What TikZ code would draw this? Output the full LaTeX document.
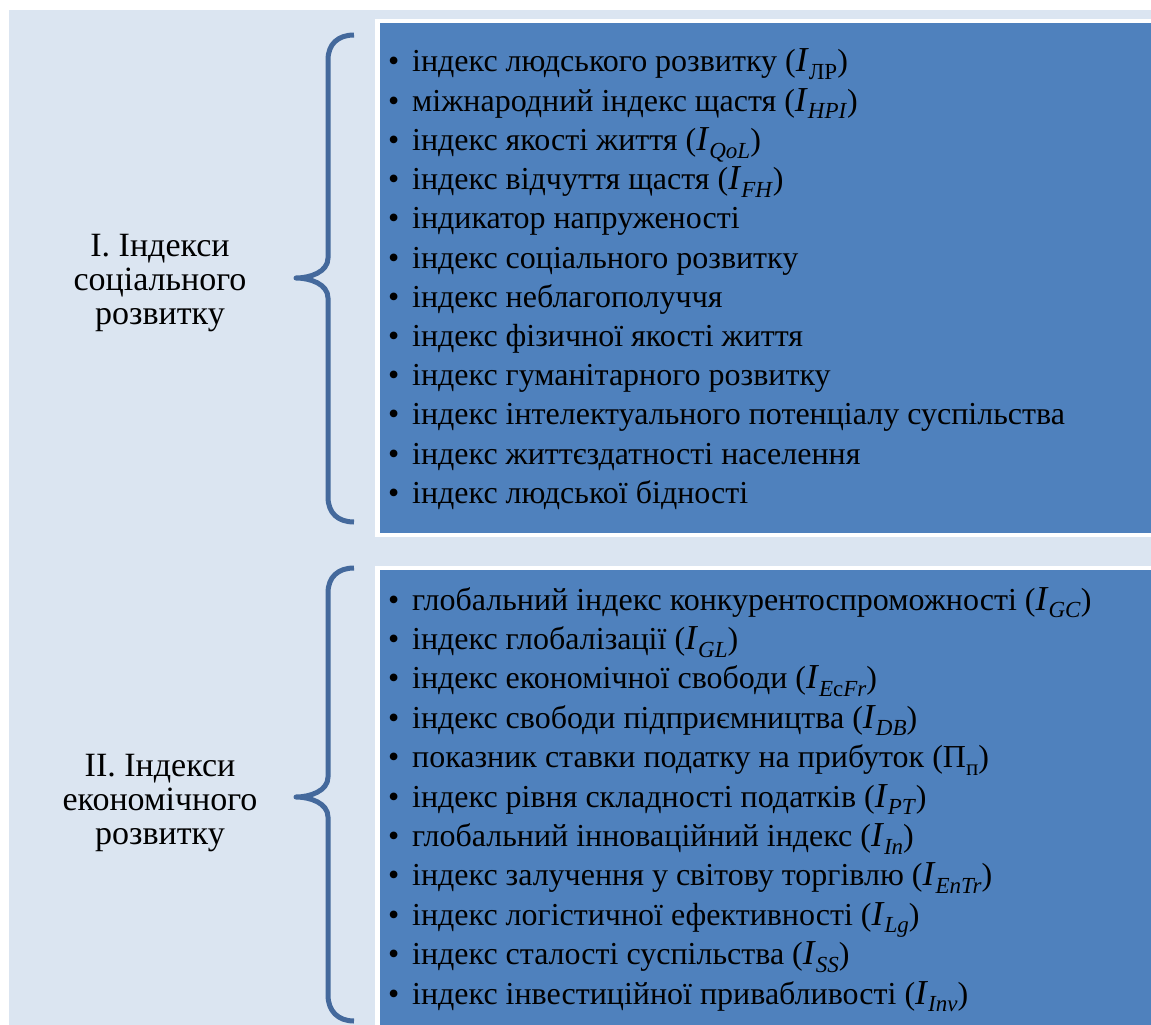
\documentclass[tikz,border=0pt]{standalone}
\usepackage{fontspec}
\setmainfont{Liberation Serif}
\definecolor{bgc}{HTML}{DBE5F1}
\definecolor{boxc}{HTML}{4F81BD}
\definecolor{bracec}{HTML}{44699C}
\newcommand{\Sb}[1]{\raisebox{-0.24em}{\fontsize{23}{23}\selectfont #1}}
\newcommand{\Iv}{{\fontsize{35}{35}\selectfont\textit{I}}}
\tikzset{
  box/.style={rectangle, fill=boxc, draw=white, line width=4.5pt, inner sep=0pt, outer sep=0pt, anchor=north west},
  item/.style={anchor=base west, inner sep=0pt, font=\fontsize{32}{39}\selectfont},
  lab/.style={align=center, inner sep=0pt, font=\fontsize{34}{34}\selectfont},
  bracepath/.style={draw=bracec, line width=5pt, line cap=butt, line join=round}
}
\begin{document}
\begin{tikzpicture}[x=1pt,y=-1pt]
\useasboundingbox (0,0) rectangle (1151,1025);
\fill[white] (0,0) rectangle (1151,1025);
\fill[bgc] (9,10) rectangle (1160,1030);
\node[box, minimum width=820pt, minimum height=514pt] (box1) at (377.5,21) {};
\node[box, minimum width=820pt, minimum height=480pt] (box2) at (377.5,568) {};
\foreach \t [count=\i from 0] in {
  {індекс людського розвитку (\Iv\Sb{ЛР})},
  {міжнародний індекс щастя (\Iv\Sb{\textit{HPI}})},
  {індекс якості життя (\Iv\Sb{\textit{QoL}})},
  {індекс відчуття щастя (\Iv\Sb{\textit{FH}})},
  {індикатор напруженості},
  {індекс соціального розвитку},
  {індекс неблагополуччя},
  {індекс фізичної якості життя},
  {індекс гуманітарного розвитку},
  {індекс інтелектуального потенціалу суспільства},
  {індекс життєздатності населення},
  {індекс людської бідності}}
  \node[item] (a\i) at (388,72+39.2*\i) {\makebox[24pt][l]{\textbullet}\t};
\foreach \t [count=\i from 0] in {
  {глобальний індекс конкурентоспроможності (\Iv\Sb{\textit{GC}})},
  {індекс глобалізації (\Iv\Sb{\textit{GL}})},
  {індекс економічної свободи (\Iv\Sb{\textit{E}c\textit{Fr}})},
  {індекс свободи підприємництва (\Iv\Sb{\textit{DB}})},
  {показник ставки податку на прибуток (П\Sb{п})},
  {індекс рівня складності податків (\Iv\Sb{\textit{PT}})},
  {глобальний інноваційний індекс (\Iv\Sb{\textit{In}})},
  {індекс залучення у світову торгівлю (\Iv\Sb{\textit{EnTr}})},
  {індекс логістичної ефективності (\Iv\Sb{\textit{Lg}})},
  {індекс сталості суспільства (\Iv\Sb{\textit{SS}})},
  {індекс інвестиційної привабливості (\Iv\Sb{\textit{Inv}})}}
  \node[item] (b\i) at (388,610+39.4*\i) {\makebox[24pt][l]{\textbullet}\t};
\node[lab] (l1) at (160,283) {I. Індекси\\соціального\\розвитку};
\node[lab] (l2) at (160,803) {II. Індекси\\економічного\\розвитку};
\draw[bracepath] (354,35) .. controls (338,35) and (328,44) .. (328,60) -- (328,258)
  .. controls (328,272) and (310,278) .. (296,278)
  .. controls (310,278) and (328,284) .. (328,298) -- (328,497)
  .. controls (328,513) and (338,522) .. (354,522);
\draw[bracepath] (354,568) .. controls (338,568) and (328,577) .. (328,593) -- (328,777)
  .. controls (328,791) and (310,797) .. (296,797)
  .. controls (310,797) and (328,803) .. (328,817) -- (328,995)
  .. controls (328,1011) and (338,1021) .. (354,1021);
\end{tikzpicture}
\end{document}
